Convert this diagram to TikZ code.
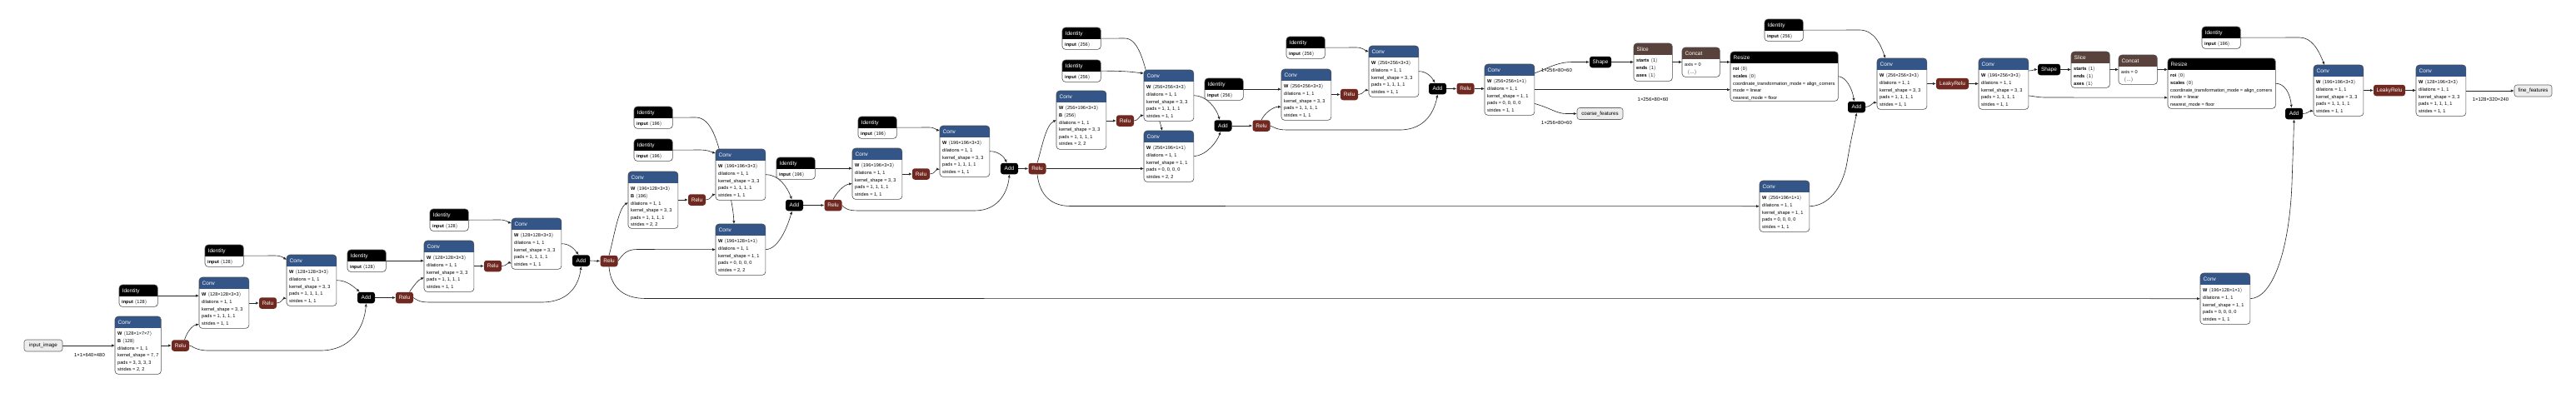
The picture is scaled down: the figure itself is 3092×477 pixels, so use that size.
\documentclass[tikz,border=0pt]{standalone}
\usepackage{fontspec}
\setmainfont{Liberation Sans}
\usetikzlibrary{arrows.meta}
\pgfdeclarelayer{bg}
\pgfdeclarelayer{edgelayer}
\pgfsetlayers{bg,edgelayer,main}
\definecolor{convc}{RGB}{51,85,136}
\definecolor{reluc}{RGB}{112,41,33}
\definecolor{tensc}{RGB}{89,66,59}
\newcommand{\hdfont}{\fontsize{6.5}{7}\selectfont}
\newcommand{\bdfont}{\fontsize{5.6}{7}\selectfont}
\newcommand{\iofont}{\fontsize{6.2}{7}\selectfont}
\newcommand{\lbfont}{\fontsize{5.9}{7}\selectfont}
\newcommand{\tsh}[1]{$\langle$#1$\rangle$}
\tikzset{
  edge/.style={draw=black!85, line width=0.6pt, -{Latex[length=3.8pt,width=3.2pt]}},
  small/.style={rounded corners=3pt, inner sep=0pt, text=white, font=\hdfont, minimum height=13.5pt, minimum width=21pt},
  boxbg/.style={fill=white, rounded corners=4pt, inner sep=0pt},
  blkborder/.style={draw=black!70, line width=0.6pt, rounded corners=4pt},
  htxt/.style={text=white, font=\hdfont, inner sep=0pt},
  btxt/.style={text=black, font=\bdfont, inner sep=0pt},
  io/.style={draw=black!60, fill=black!7, line width=0.6pt, rounded corners=3pt, inner sep=0pt, minimum height=14pt, font=\iofont},
  lbl/.style={font=\lbfont, inner sep=0pt},
}
% name, x, y, width, height, header colour, title, {lines}
\newcommand{\blk}[8]{%
  \node[boxbg, minimum width=#4pt, minimum height=#5pt, anchor=north west] (#1) at (#2,#3) {};
  \begin{scope}
    \clip[rounded corners=4pt] (#1.north west) rectangle (#1.south east);
    \fill[#6] (#1.north west) rectangle ([yshift=-14pt]#1.north east);
  \end{scope}
  \draw[blkborder] (#1.north west) rectangle (#1.south east);
  \node[htxt, anchor=base west] (#1-t) at ([xshift=3.5pt,yshift=-9.3pt]#1.north west) {#7};
  \foreach \bline [count=\bidx] in {#8} {
    \node[btxt, anchor=base west] (#1-\bidx) at ([xshift=3pt,yshift={-22.8pt-(\bidx-1)*8.6pt}]#1.north west) {\bline};
  }%
}
\newcommand{\convnode}[7]{\blk{#1}{#2}{#3}{59.5}{61}{convc}{Conv}{{\textbf{W} \tsh{#4}},{dilations = 1, 1},{kernel\_shape = #5, #5},{pads = #6, #6, #6, #6},{strides = #7, #7}}}
\newcommand{\idnode}[4]{\blk{#1}{#2}{#3}{46}{26}{black}{Identity}{{\textbf{input} \tsh{#4}}}}

\begin{document}
\begin{tikzpicture}[x=1pt,y=-1pt]
\useasboundingbox (0,0) rectangle (3092,477);
\begin{pgfonlayer}{bg}
\fill[white] (0,0) rectangle (3092,477);
\end{pgfonlayer}

% ---------- input ----------
\node[io, minimum width=46pt] (inp) at (52,415) {input\_image};
\node[lbl] (l1) at (107.5,426.5) {1×1×640×480};

\blk{c1}{138}{380}{55}{69}{convc}{Conv}{{\textbf{W} \tsh{128×1×7×7}},{\textbf{B} \tsh{128}},{dilations = 1, 1},{kernel\_shape = 7, 7},{pads = 3, 3, 3, 3},{strides = 2, 2}}
\node[small, fill=reluc] (r1) at (216.5,415) {Relu};

% ---------- layer1 ----------
\idnode{a1}{143}{342}{128}
\convnode{c2}{239}{333}{128×128×3×3}{3}{1}{1}
\node[small, fill=reluc] (r2) at (321.5,364) {Relu};
\idnode{a2}{246}{294}{128}
\convnode{c3}{344}{306}{128×128×3×3}{3}{1}{1}
\node[small, fill=black] (add1) at (439.5,357.5) {Add};
\node[small, fill=reluc] (r3) at (485.5,357.5) {Relu};
\idnode{a3}{417}{300}{128}
\convnode{c4}{509}{289}{128×128×3×3}{3}{1}{1}
\node[small, fill=reluc] (r4) at (591.5,319.5) {Relu};
\idnode{a4}{516}{251}{128}
\convnode{c5}{614}{262}{128×128×3×3}{3}{1}{1}
\node[small, fill=black] (add2) at (697.5,313) {Add};
\node[small, fill=reluc] (r5) at (731,313.5) {Relu};

% ---------- layer2 ----------
\blk{c6}{754}{206}{59.5}{68}{convc}{Conv}{{\textbf{W} \tsh{196×128×3×3}},{\textbf{B} \tsh{196}},{dilations = 1, 1},{kernel\_shape = 3, 3},{pads = 1, 1, 1, 1},{strides = 2, 2}}
\node[small, fill=reluc] (r6) at (836.5,240) {Relu};
\idnode{a6}{761}{128}{196}
\idnode{a7}{761}{167}{196}
\convnode{c7}{859}{179}{196×196×3×3}{3}{1}{1}
\convnode{c8}{859}{269}{196×128×1×1}{1}{0}{2}
\node[small, fill=black] (add3) at (953.5,246.5) {Add};
\node[small, fill=reluc] (r7) at (1000,246.5) {Relu};
\idnode{a8}{932}{189}{196}
\convnode{c9}{1023}{178}{196×196×3×3}{3}{1}{1}
\node[small, fill=reluc] (r8) at (1105.5,209) {Relu};
\idnode{a9}{1030}{140}{196}
\convnode{c10}{1128}{151}{196×196×3×3}{3}{1}{1}
\node[small, fill=black] (add4) at (1211.5,202.5) {Add};
\node[small, fill=reluc] (r9) at (1245,202.5) {Relu};

% ---------- layer3 ----------
\blk{c11}{1268}{109}{59.5}{70}{convc}{Conv}{{\textbf{W} \tsh{256×196×3×3}},{\textbf{B} \tsh{256}},{dilations = 1, 1},{kernel\_shape = 3, 3},{pads = 1, 1, 1, 1},{strides = 2, 2}}
\node[small, fill=reluc] (r10) at (1350.5,145) {Relu};
\idnode{a10}{1275}{33}{256}
\idnode{a11}{1275}{72}{256}
\convnode{c12}{1373}{84}{256×256×3×3}{3}{1}{1}
\convnode{c13}{1373}{157}{256×196×1×1}{1}{0}{2}
\node[small, fill=black] (add5) at (1468,151) {Add};
\node[small, fill=reluc] (r11) at (1514,151) {Relu};
\idnode{a12}{1446}{94}{256}
\convnode{c14}{1538}{83}{256×256×3×3}{3}{1}{1}
\node[small, fill=reluc] (r12) at (1619.5,113.5) {Relu};
\idnode{a13}{1544}{44}{256}
\convnode{c15}{1643}{55}{256×256×3×3}{3}{1}{1}
\node[small, fill=black] (add6) at (1725.5,106.5) {Add};
\node[small, fill=reluc] (r13) at (1759,106.5) {Relu};

% ---------- FPN ----------
\convnode{c16}{1782}{77}{256×256×1×1}{1}{0}{1}
\node[lbl] (l2) at (1868.5,84.5) {1×256×80×60};
\node[lbl] (l3) at (1984,119) {1×256×80×60};
\node[lbl] (l4) at (1868.5,147.5) {1×256×80×60};
\node[io, minimum width=55pt] (coarse) at (1920.5,136.5) {coarse\_features};
\node[small, fill=black, minimum width=26pt] (shape1) at (1921,74.5) {Shape};
\blk{slice1}{1961}{52}{46}{45}{tensc}{Slice}{{\textbf{starts} \tsh{1}},{\textbf{ends} \tsh{1}},{\textbf{axes} \tsh{1}}}
\blk{concat1}{2019}{57}{45}{35}{tensc}{Concat}{{axis = 0},{\hspace{3pt}\tsh{…}}}
\blk{resize1}{2077}{62}{129}{59}{black}{Resize}{{\textbf{roi} \tsh{0}},{\textbf{scales} \tsh{0}},{coordinate\_transformation\_mode = align\_corners},{mode = linear},{nearest\_mode = floor}}
\convnode{ca}{2112}{217}{256×196×1×1}{1}{0}{1}
\node[small, fill=black] (add7) at (2228.5,128.5) {Add};
\idnode{a14}{2118}{23}{256}
\convnode{c17}{2253}{70}{256×256×3×3}{3}{1}{1}
\node[small, fill=reluc, minimum width=39pt] (lr1) at (2343.5,100.5) {LeakyRelu};
\convnode{c18}{2375}{70}{196×256×3×3}{3}{1}{1}
\node[small, fill=black, minimum width=27pt] (shape2) at (2459.5,83.5) {Shape};
\blk{slice2}{2486}{62}{46}{43}{tensc}{Slice}{{\textbf{starts} \tsh{1}},{\textbf{ends} \tsh{1}},{\textbf{axes} \tsh{1}}}
\blk{concat2}{2543}{66}{46}{35}{tensc}{Concat}{{axis = 0},{\hspace{3pt}\tsh{…}}}
\blk{resize2}{2602}{70}{129}{60}{black}{Resize}{{\textbf{roi} \tsh{0}},{\textbf{scales} \tsh{0}},{coordinate\_transformation\_mode = align\_corners},{mode = linear},{nearest\_mode = floor}}
\convnode{cb}{2641}{328}{196×128×1×1}{1}{0}{1}
\node[small, fill=black] (add8) at (2753.5,136.5) {Add};
\idnode{a15}{2643}{32}{196}
\convnode{c19}{2777}{78}{196×196×3×3}{3}{1}{1}
\node[small, fill=reluc, minimum width=38pt] (lr2) at (2868,108.5) {LeakyRelu};
\convnode{c20}{2900}{78}{128×196×3×3}{3}{1}{1}
\node[lbl] (l5) at (2989.5,119) {1×128×320×240};
\node[io, minimum width=45pt] (fine) at (3040.5,109) {fine\_features};

% ---------- edges ----------
\begin{pgfonlayer}{edgelayer}
\draw[edge] (inp.east) -- (inp.east -| c1.west);
\draw[edge] (c1.east |- r1.west) -- (r1.west);
\draw[edge] ([xshift=5pt]r1.north) .. controls (224,400) and (230,391) .. ([yshift=5pt]c2.south west);
\draw[edge] (a1.east) -- (a1.east -| c2.west);
\draw[edge] (c2.east |- r2.west) -- (r2.west);
\draw[edge] (r2.east) .. controls (338,364) and (340,358) .. ([yshift=9pt]c3.south west);
\draw[edge] (a2.east) -- (330,307) .. controls (338,307) and (341,310) .. ([yshift=-6pt]c3.north west);
\draw[edge] (c3.east) .. controls (416,336.5) and (424,344) .. ([xshift=3pt]add1.north west);
\draw[edge] (add1.east) -- (r3.west);
\draw[edge] (r1.east) .. controls (231,415) and (234,421) .. (250,421) -- (385,421) .. controls (420,421) and (437,395) .. (add1.south);
\draw[edge] ([xshift=6pt]r3.north) .. controls (496,344) and (502,336) .. ([yshift=17pt]c4.south west);
\draw[edge] (a3.east) -- (a3.east -| c4.west);
\draw[edge] (r3.east) .. controls (500,360) and (503,363) .. (515,363) -- (650,363) .. controls (685,363) and (695,340) .. (add2.south);
\draw[edge] (c4.east |- r4.west) -- (r4.west);
\draw[edge] (r4.east) .. controls (608,319.5) and (610,315) .. ([yshift=7pt]c5.south west);
\draw[edge] (a4.east) -- (600,264) .. controls (608,264) and (610,267) .. ([yshift=-6pt]c5.north west);
\draw[edge] (c5.east) .. controls (684,292.5) and (690,300) .. ([xshift=-3pt]add2.north);
\draw[edge] (add2.east) -- (r5.west);
\draw[edge] (r5.north) .. controls (736,290) and (742,250) .. ([yshift=-3pt]c6.west);
\draw[edge] (r5.east) .. controls (748,305) and (752,299.5) .. (765,299.5) -- (c8.west);
\draw[edge] (r5.south) .. controls (733,345) and (748,358.5) .. (775,358.5) -- (cb.west);
\draw[edge] (c6.east |- r6.west) -- (r6.west);
\draw[edge] (r6.east) .. controls (853,240) and (855,234) .. ([yshift=7pt]c7.south west);
\draw[edge] (a7.east) -- (840,180) .. controls (850,180) and (855,183) .. ([yshift=-5pt]c7.north west);
\draw[edge] (a6.east) -- (835,141) .. controls (852,141) and (860,165) .. (866,190) .. controls (872,215) and (880,245) .. ([xshift=22pt]c8.north west);
\draw[edge] (c7.east) .. controls (935,209.5) and (945,225) .. ([xshift=-3pt]add3.north);
\draw[edge] (c8.east) .. controls (935,299.5) and (946,270) .. ([xshift=-3pt]add3.south);
\draw[edge] (add3.east) -- (r7.west);
\draw[edge] (a8.east) -- (a8.east -| c9.west);
\draw[edge] (r7.north) .. controls (1004,232) and (1012,222) .. ([yshift=19pt]c9.south west);
\draw[edge] (r7.east) .. controls (1014,250) and (1017,253) .. (1030,253) -- (1170,253) .. controls (1200,253) and (1210,228) .. (add4.south);
\draw[edge] (c9.east |- r8.west) -- (r8.west);
\draw[edge] (r8.east) .. controls (1122,209) and (1124,203) .. ([yshift=9pt]c10.south west);
\draw[edge] (a9.east) -- (1115,153) .. controls (1122,153) and (1124,156) .. ([yshift=-6pt]c10.north west);
\draw[edge] (c10.east) .. controls (1198,181.5) and (1205,188) .. ([xshift=-3pt]add4.north);
\draw[edge] (add4.east) -- (r9.west);
\draw[edge] (r9.north) .. controls (1250,180) and (1255,150) .. (c11.west);
\draw[edge] (r9.east) -- (r9.east -| c13.west);
\draw[edge] (r9.south) .. controls (1248,235) and (1262,247.5) .. (1285,247.5) -- (ca.west);
\draw[edge] (a10.east) -- (1350,46) .. controls (1365,46) and (1372,70) .. (1378,95) .. controls (1385,125) and (1392,145) .. ([xshift=22pt]c13.north west);
\draw[edge] (a11.east) .. controls (1355,85) and (1362,87) .. ([yshift=-4pt]c12.north west);
\draw[edge] (c11.east |- r10.west) -- (r10.west);
\draw[edge] (r10.east) .. controls (1366,145) and (1368,139) .. ([yshift=7pt]c12.south west);
\draw[edge] (c12.east) .. controls (1448,114.5) and (1460,130) .. ([xshift=-4pt]add5.north);
\draw[edge] (c13.east) .. controls (1448,187) and (1461,170) .. ([xshift=-3pt]add5.south);
\draw[edge] (add5.east) -- (r11.west);
\draw[edge] (a12.east) -- (a12.east -| c14.west);
\draw[edge] (r11.north) .. controls (1518,136) and (1528,128) .. ([yshift=16pt]c14.south west);
\draw[edge] (r11.east) .. controls (1530,153) and (1532,156) .. (1545,156) -- (1680,156) .. controls (1712,156) and (1722,132) .. (add6.south);
\draw[edge] (c14.east |- r12.west) -- (r12.west);
\draw[edge] (r12.east) .. controls (1636,113.5) and (1638,108) .. ([yshift=8pt]c15.south west);
\draw[edge] (a13.east) -- (1628,57) .. controls (1636,57) and (1639,61) .. ([yshift=-7pt]c15.north west);
\draw[edge] (c15.east) .. controls (1712,85.5) and (1718,92) .. ([xshift=-3pt]add6.north);
\draw[edge] (add6.east) -- (r13.west);
\draw[edge] (r13.east) -- (r13.east -| c16.west);
\draw[edge] ([yshift=-11pt]c16.north east) .. controls (1862,80) and (1870,74.5) .. (1888,74.5) -- (shape1.west);
\draw[edge] (c16.east) -- (c16.east -| resize1.west);
\draw[edge] ([yshift=14pt]c16.south east) .. controls (1862,130) and (1868,136.5) .. (1880,136.5) -- (coarse.west);
\draw[edge] (shape1.east) -- (shape1.east -| slice1.west);
\draw[edge] (slice1.east |- shape1.east) -- (concat1.west |- shape1.east);
\draw[edge] (concat1.east |- shape1.east) -- (resize1.west |- shape1.east);
\draw[edge] (resize1.east) .. controls (2215,92) and (2223,105) .. ([xshift=-3pt]add7.north);
\draw[edge] (ca.east) .. controls (2195,247.5) and (2212,225) .. (2217,195) .. controls (2222,165) and (2226,150) .. (add7.south);
\draw[edge] (add7.east) .. controls (2245,128.5) and (2248,123) .. ([yshift=8pt]c17.south west);
\draw[edge] (a14.east) -- (2232,36) .. controls (2250,36) and (2258,55) .. ([xshift=10pt]c17.north west);
\draw[edge] (c17.east |- lr1.west) -- (lr1.west);
\draw[edge] (lr1.east) -- (lr1.east -| c18.west);
\draw[edge] ([yshift=-15pt]c18.north east) .. controls (2440,85) and (2442,83.5) .. (shape2.west);
\draw[edge] ([yshift=-45pt]c18.north east) .. controls (2440,115) and (2444,117) .. (2455,117) -- ([yshift=-17pt]resize2.west);
\draw[edge] (shape2.east) -- (shape2.east -| slice2.west);
\draw[edge] (slice2.east |- shape2.east) -- (concat2.west |- shape2.east);
\draw[edge] (concat2.east |- shape2.east) -- (resize2.west |- shape2.east);
\draw[edge] (resize2.east) .. controls (2742,100) and (2749,112) .. ([xshift=-3pt]add8.north);
\draw[edge] (cb.east) .. controls (2728,358) and (2748,300) .. (2751,220) .. controls (2752,190) and (2753,165) .. (add8.south);
\draw[edge] (add8.east) .. controls (2770,136.5) and (2772,133) .. ([yshift=6pt]c19.south west);
\draw[edge] (a15.east) -- (2760,45) .. controls (2775,45) and (2783,60) .. ([xshift=13pt]c19.north west);
\draw[edge] (c19.east |- lr2.west) -- (lr2.west);
\draw[edge] (lr2.east) -- (lr2.east -| c20.west);
\draw[edge] (c20.east |- fine.west) -- (fine.west);
\end{pgfonlayer}
\end{tikzpicture}
\end{document}
